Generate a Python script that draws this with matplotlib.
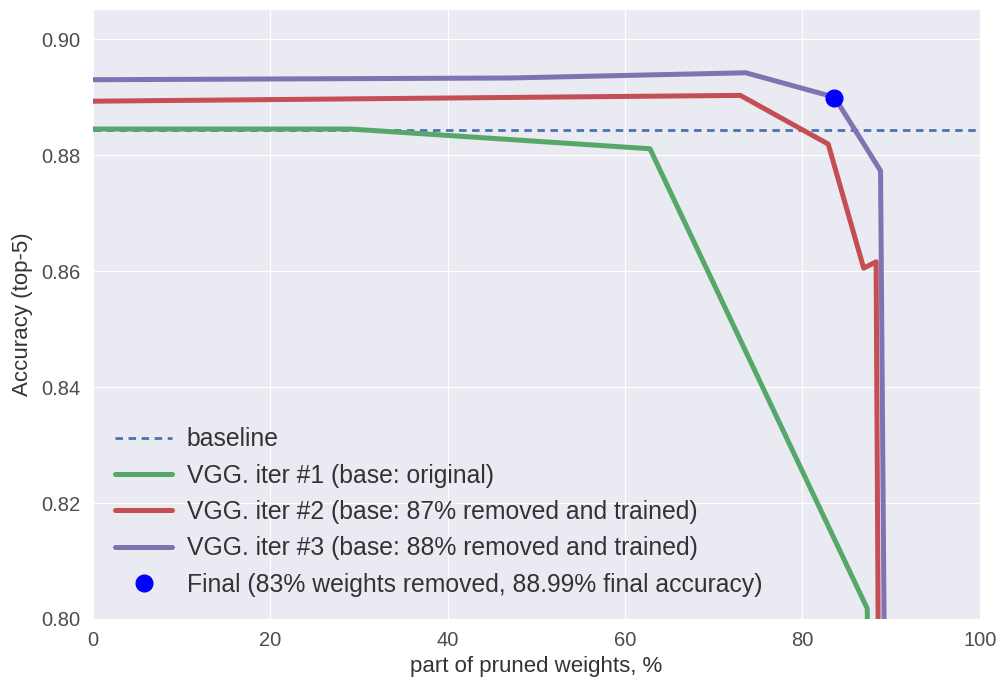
import matplotlib
matplotlib.use("Agg")
import matplotlib.pyplot as plt

plt.style.use("seaborn-v0_8-darkgrid")

baseline = 0.8843

x_iter1 = [0, 29, 62.8, 87.3, 87.4]
y_iter1 = [0.8845, 0.8845, 0.8811, 0.8018, 0.78]

x_iter2 = [0, 73.0, 82.9, 86.9, 88.3, 88.6]
y_iter2 = [0.8893, 0.8903, 0.8819, 0.8605, 0.8616, 0.78]

x_iter3 = [0, 47, 73.6, 83.6, 88.8, 89.3]
y_iter3 = [0.8930, 0.8933, 0.8942, 0.8900, 0.8773, 0.78]

final_x = [83.6]
final_y = [0.8899]

labels = ["baseline",
          "VGG. iter #1 (base: original)",
          "VGG. iter #2 (base: 87% removed and trained)",
          "VGG. iter #3 (base: 88% removed and trained)",
          "Final (83% weights removed, 88.99% final accuracy)"]

fig = plt.figure(figsize=(10.05, 6.77), dpi=100)
ax = fig.add_axes([0.0925, 0.0857, 0.8825, 0.8993])

ax.axhline(baseline, color="#4C72B0", linestyle=(0, (2.7, 2.0)), lw=2.0, label=labels[0])
ax.plot(x_iter1, y_iter1, color="#55A868", lw=3.6, label=labels[1])
ax.plot(x_iter2, y_iter2, color="#C44E52", lw=3.6, label=labels[2])
ax.plot(x_iter3, y_iter3, color="#8172B2", lw=3.6, label=labels[3])
ax.plot(final_x, final_y, "o", color="#0000FF", markersize=12, label=labels[4], zorder=5)

ax.set_xlim(0, 100)
ax.set_ylim(0.80, 0.905)
ax.set_xticks([0, 20, 40, 60, 80, 100])
ax.set_yticks([0.80, 0.82, 0.84, 0.86, 0.88, 0.90])
ax.set_yticklabels(["0.80", "0.82", "0.84", "0.86", "0.88", "0.90"])
ax.tick_params(labelsize=14.5, labelcolor="#4d4d4d", pad=9)
ax.set_xlabel("part of pruned weights, %", fontsize=16, color="#333333", labelpad=4)
ax.set_ylabel("Accuracy (top-5)", fontsize=16, color="#333333", labelpad=6)
leg = ax.legend(loc="lower left", fontsize=17.8, frameon=False,
                handlelength=2.3, handletextpad=0.6, labelspacing=0.5)
for t in leg.get_texts():
    t.set_color("#333333")

fig.savefig("out.png", dpi=100)
